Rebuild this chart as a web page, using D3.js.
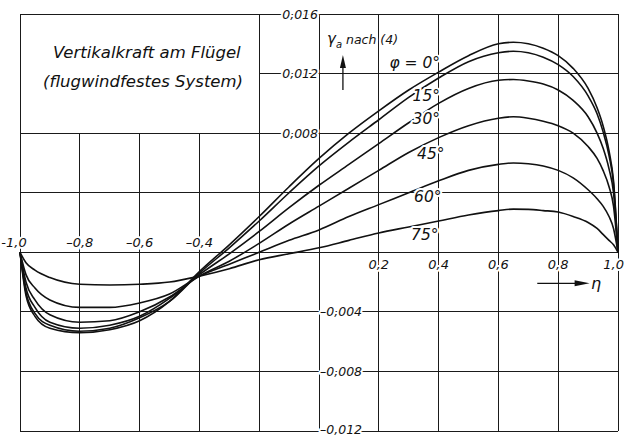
<!DOCTYPE html>
<html>
<head>
<meta charset="utf-8">
<script src="https://cdn.jsdelivr.net/npm/d3@7"></script>
<style>
  body { margin: 0; background: #fff; }
  svg text { font-family: 'DejaVu Sans', sans-serif; font-style: italic; fill: #111; }
  .halo { paint-order: stroke; stroke: #fff; stroke-width: 4px; stroke-linejoin: round; }
</style>
</head>
<body>
<div class="result"></div>
<script>
// Spanwise position eta
const etaValues = [-1, -0.98, -0.95, -0.9, -0.8, -0.7, -0.6, -0.5, -0.4, -0.3, -0.2, -0.1,
  0, 0.1, 0.2, 0.3, 0.4, 0.5, 0.6, 0.65, 0.7, 0.75, 0.8, 0.85, 0.9, 0.93, 0.95, 0.97, 0.985, 1];

// gamma_a for each phi
const phi0 = [0, -0.0029, -0.0043, -0.0051, -0.0054, -0.0052, -0.0046, -0.0033, -0.0013, 0.0005, 0.0024, 0.0044,
  0.0063, 0.0080, 0.0095, 0.0109, 0.0121, 0.0132, 0.0140, 0.0141, 0.0140, 0.0137, 0.0132, 0.01235, 0.0110,
  0.0097, 0.0085, 0.0068, 0.0048, 0];
const phi15 = [0, -0.0027, -0.0041, -0.0049, -0.0053, -0.0051, -0.0044, -0.0033, -0.0014, 0.0003, 0.0021, 0.0040,
  0.0058, 0.0074, 0.0089, 0.0104, 0.0117, 0.0128, 0.0134, 0.0135, 0.0134, 0.0131, 0.0126, 0.0118, 0.0105,
  0.0093, 0.0081, 0.0065, 0.0046, 0];
const phi30 = [0, -0.0024, -0.0037, -0.0047, -0.0051, -0.0049, -0.0043, -0.0031, -0.0015, -0.0001, 0.0014, 0.0030,
  0.0045, 0.0059, 0.0073, 0.0087, 0.0100, 0.0110, 0.01155, 0.0116, 0.0115, 0.0113, 0.0109, 0.0102, 0.0091,
  0.0080, 0.0070, 0.0056, 0.0040, 0];
const phi45 = [0, -0.0020, -0.0032, -0.0042, -0.0047, -0.0046, -0.0040, -0.0030, -0.0016, -0.0006, 0.0006, 0.0019,
  0.0031, 0.0043, 0.0055, 0.0067, 0.0077, 0.0085, 0.0090, 0.0091, 0.0090, 0.0088, 0.0085, 0.0080, 0.0071,
  0.0063, 0.0055, 0.0044, 0.0031, 0];
const phi60 = [0, -0.0015, -0.0024, -0.0032, -0.0037, -0.0037, -0.0034, -0.0028, -0.0016, -0.0008, 0.0000, 0.0008,
  0.0015, 0.0024, 0.0032, 0.0040, 0.0048, 0.0055, 0.0059, 0.0060, 0.00595, 0.0058, 0.0055, 0.0050, 0.0042,
  0.0036, 0.0031, 0.0024, 0.0016, 0];
const phi75 = [0, -0.0007, -0.0012, -0.0017, -0.00215, -0.0022, -0.00215, -0.0020, -0.0016, -0.0011, -0.0005, -0.0001,
  0.0003, 0.0008, 0.0013, 0.0017, 0.0021, 0.0025, 0.0028, 0.0029, 0.00288, 0.0028, 0.0027, 0.0024, 0.0020,
  0.0016, 0.0012, 0.0008, 0.0005, 0];

const curveLabels = ['φ = 0°', '15°', '30°', '45°', '60°', '75°'];

// Ticks
const xTicks = [-1, -0.8, -0.6, -0.4, -0.2, 0, 0.2, 0.4, 0.6, 0.8, 1];
const xTickLabels = ['-1,0', '–0,8', '–0,6', '–0,4', '', '', '0,2', '0,4', '0,6', '0,8', '1,0'];
const yTicks = [-0.012, -0.008, -0.004, 0, 0.004, 0.008, 0.012, 0.016];
const yTickLabels = ['–0,012', '–0,008', '–0,004', '', '', '0,008', '0,012', '0,016'];

// Width and height
const w = 625;
const h = 436;

const series = [phi0, phi15, phi30, phi45, phi60, phi75];

// Scales
const xScale = d3.scaleLinear().domain([-1, 1]).range([20, 618]);
const yScale = d3.scaleLinear().domain([-0.012, 0.016]).range([431, 14]);

const svg = d3.select('.result')
  .append('svg')
  .attr('width', w)
  .attr('height', h);

// Title box sits in the upper-left cells, no grid inside
const boxX0 = -1, boxX1 = -0.2, boxY0 = 0.008, boxY1 = 0.016;

const grid = svg.append('g')
  .attr('stroke', '#1a1a1a')
  .attr('stroke-width', 1)
  .attr('shape-rendering', 'crispEdges');

grid.selectAll('line.v')
  .data(xTicks)
  .enter()
  .append('line')
  .attr('class', 'v')
  .attr('x1', function (d) { return xScale(d); })
  .attr('x2', function (d) { return xScale(d); })
  .attr('y1', function (d) {
    return (d > boxX0 && d < boxX1) ? yScale(boxY0) : yScale(0.016);
  })
  .attr('y2', yScale(-0.012));

grid.selectAll('line.h')
  .data(yTicks)
  .enter()
  .append('line')
  .attr('class', 'h')
  .attr('x1', function (d) {
    return (d > boxY0 && d < boxY1) ? xScale(boxX1) : xScale(-1);
  })
  .attr('x2', xScale(1))
  .attr('y1', function (d) { return yScale(d); })
  .attr('y2', function (d) { return yScale(d); });

// Title
svg.append('text')
  .attr('x', xScale(-1) + 33)
  .attr('y', yScale(0.016) + 44)
  .style('font-size', '16.5px')
  .text('Vertikalkraft am Flügel');
svg.append('text')
  .attr('x', xScale(-1) + 23)
  .attr('y', yScale(0.016) + 73)
  .style('font-size', '16.5px')
  .text('(flugwindfestes System)');

// Curves
const line = d3.line()
  .x(function (d, i) { return xScale(etaValues[i]); })
  .y(function (d) { return yScale(d); })
  .curve(d3.curveMonotoneX);

svg.append('g')
  .selectAll('path')
  .data(series)
  .enter()
  .append('path')
  .attr('d', line)
  .attr('fill', 'none')
  .attr('stroke', '#111')
  .attr('stroke-width', 1.6);

// Curve labels
const labelSpots = [[0.405, 0.01276], [0.405, 0.01054], [0.405, 0.0090], [0.42, 0.00665], [0.41, 0.00376], [0.40, 0.00122]];
svg.append('g')
  .selectAll('text')
  .data(curveLabels)
  .enter()
  .append('text')
  .attr('class', 'halo')
  .attr('x', function (d, i) { return xScale(labelSpots[i][0]); })
  .attr('y', function (d, i) { return yScale(labelSpots[i][1]); })
  .attr('dy', '0.36em')
  .attr('text-anchor', 'end')
  .style('font-size', '15.5px')
  .text(function (d) { return d; });

// X tick labels: negative above the zero line, positive below it
svg.append('g')
  .selectAll('text')
  .data(xTicks)
  .enter()
  .append('text')
  .attr('class', 'halo')
  .attr('x', function (d) {
    if (d === -1) return xScale(d) - 6;
    if (d === 1) return w - 1;
    return xScale(d);
  })
  .attr('y', function (d) { return d < 0 ? yScale(0) - 5 : yScale(0) + 17; })
  .attr('text-anchor', function (d) { return d === 1 ? 'end' : 'middle'; })
  .style('font-size', '13px')
  .text(function (d, i) { return xTickLabels[i]; });

// Y tick labels: positive left of the axis, negative right of it
svg.append('g')
  .selectAll('text')
  .data(yTicks)
  .enter()
  .append('text')
  .attr('class', 'halo')
  .attr('x', function (d) { return d > 0 ? xScale(0) - 1 : xScale(0) + 1; })
  .attr('y', function (d) { return d === -0.012 ? h - 2 : yScale(d); })
  .attr('dy', function (d) { return d === -0.012 ? 0 : '0.36em'; })
  .attr('text-anchor', function (d) { return d > 0 ? 'end' : 'start'; })
  .style('font-size', '12.5px')
  .text(function (d, i) { return yTickLabels[i]; });

// Y axis name with arrow
const yName = svg.append('text')
  .attr('class', 'halo')
  .attr('x', xScale(0) + 8)
  .attr('y', yScale(0.016) + 30);
yName.append('tspan').style('font-size', '15px').text('γ');
yName.append('tspan').attr('dy', 4).style('font-size', '10px').text('a');
yName.append('tspan').attr('dy', -4).style('font-size', '12.5px').text(' nach (4)');

const ax = xScale(0.08);
svg.append('line')
  .attr('x1', ax).attr('x2', ax)
  .attr('y1', yScale(0.016) + 76).attr('y2', yScale(0.016) + 50)
  .attr('stroke', '#111').attr('stroke-width', 1.3);
svg.append('path')
  .attr('d', d3.line()([[ax, yScale(0.016) + 41], [ax - 3, yScale(0.016) + 54], [ax + 3, yScale(0.016) + 54]]))
  .attr('fill', '#111');

// Eta arrow
const ey = yScale(0) + 31;
svg.append('line')
  .attr('x1', xScale(0.73)).attr('x2', xScale(0.86))
  .attr('y1', ey).attr('y2', ey)
  .attr('stroke', '#111').attr('stroke-width', 1.3);
svg.append('path')
  .attr('d', d3.line()([[xScale(0.905), ey], [xScale(0.855), ey - 3], [xScale(0.855), ey + 3]]))
  .attr('fill', '#111');
svg.append('text')
  .attr('x', xScale(0.91))
  .attr('y', ey + 6)
  .style('font-size', '16px')
  .text('η');
</script>
</body>
</html>
